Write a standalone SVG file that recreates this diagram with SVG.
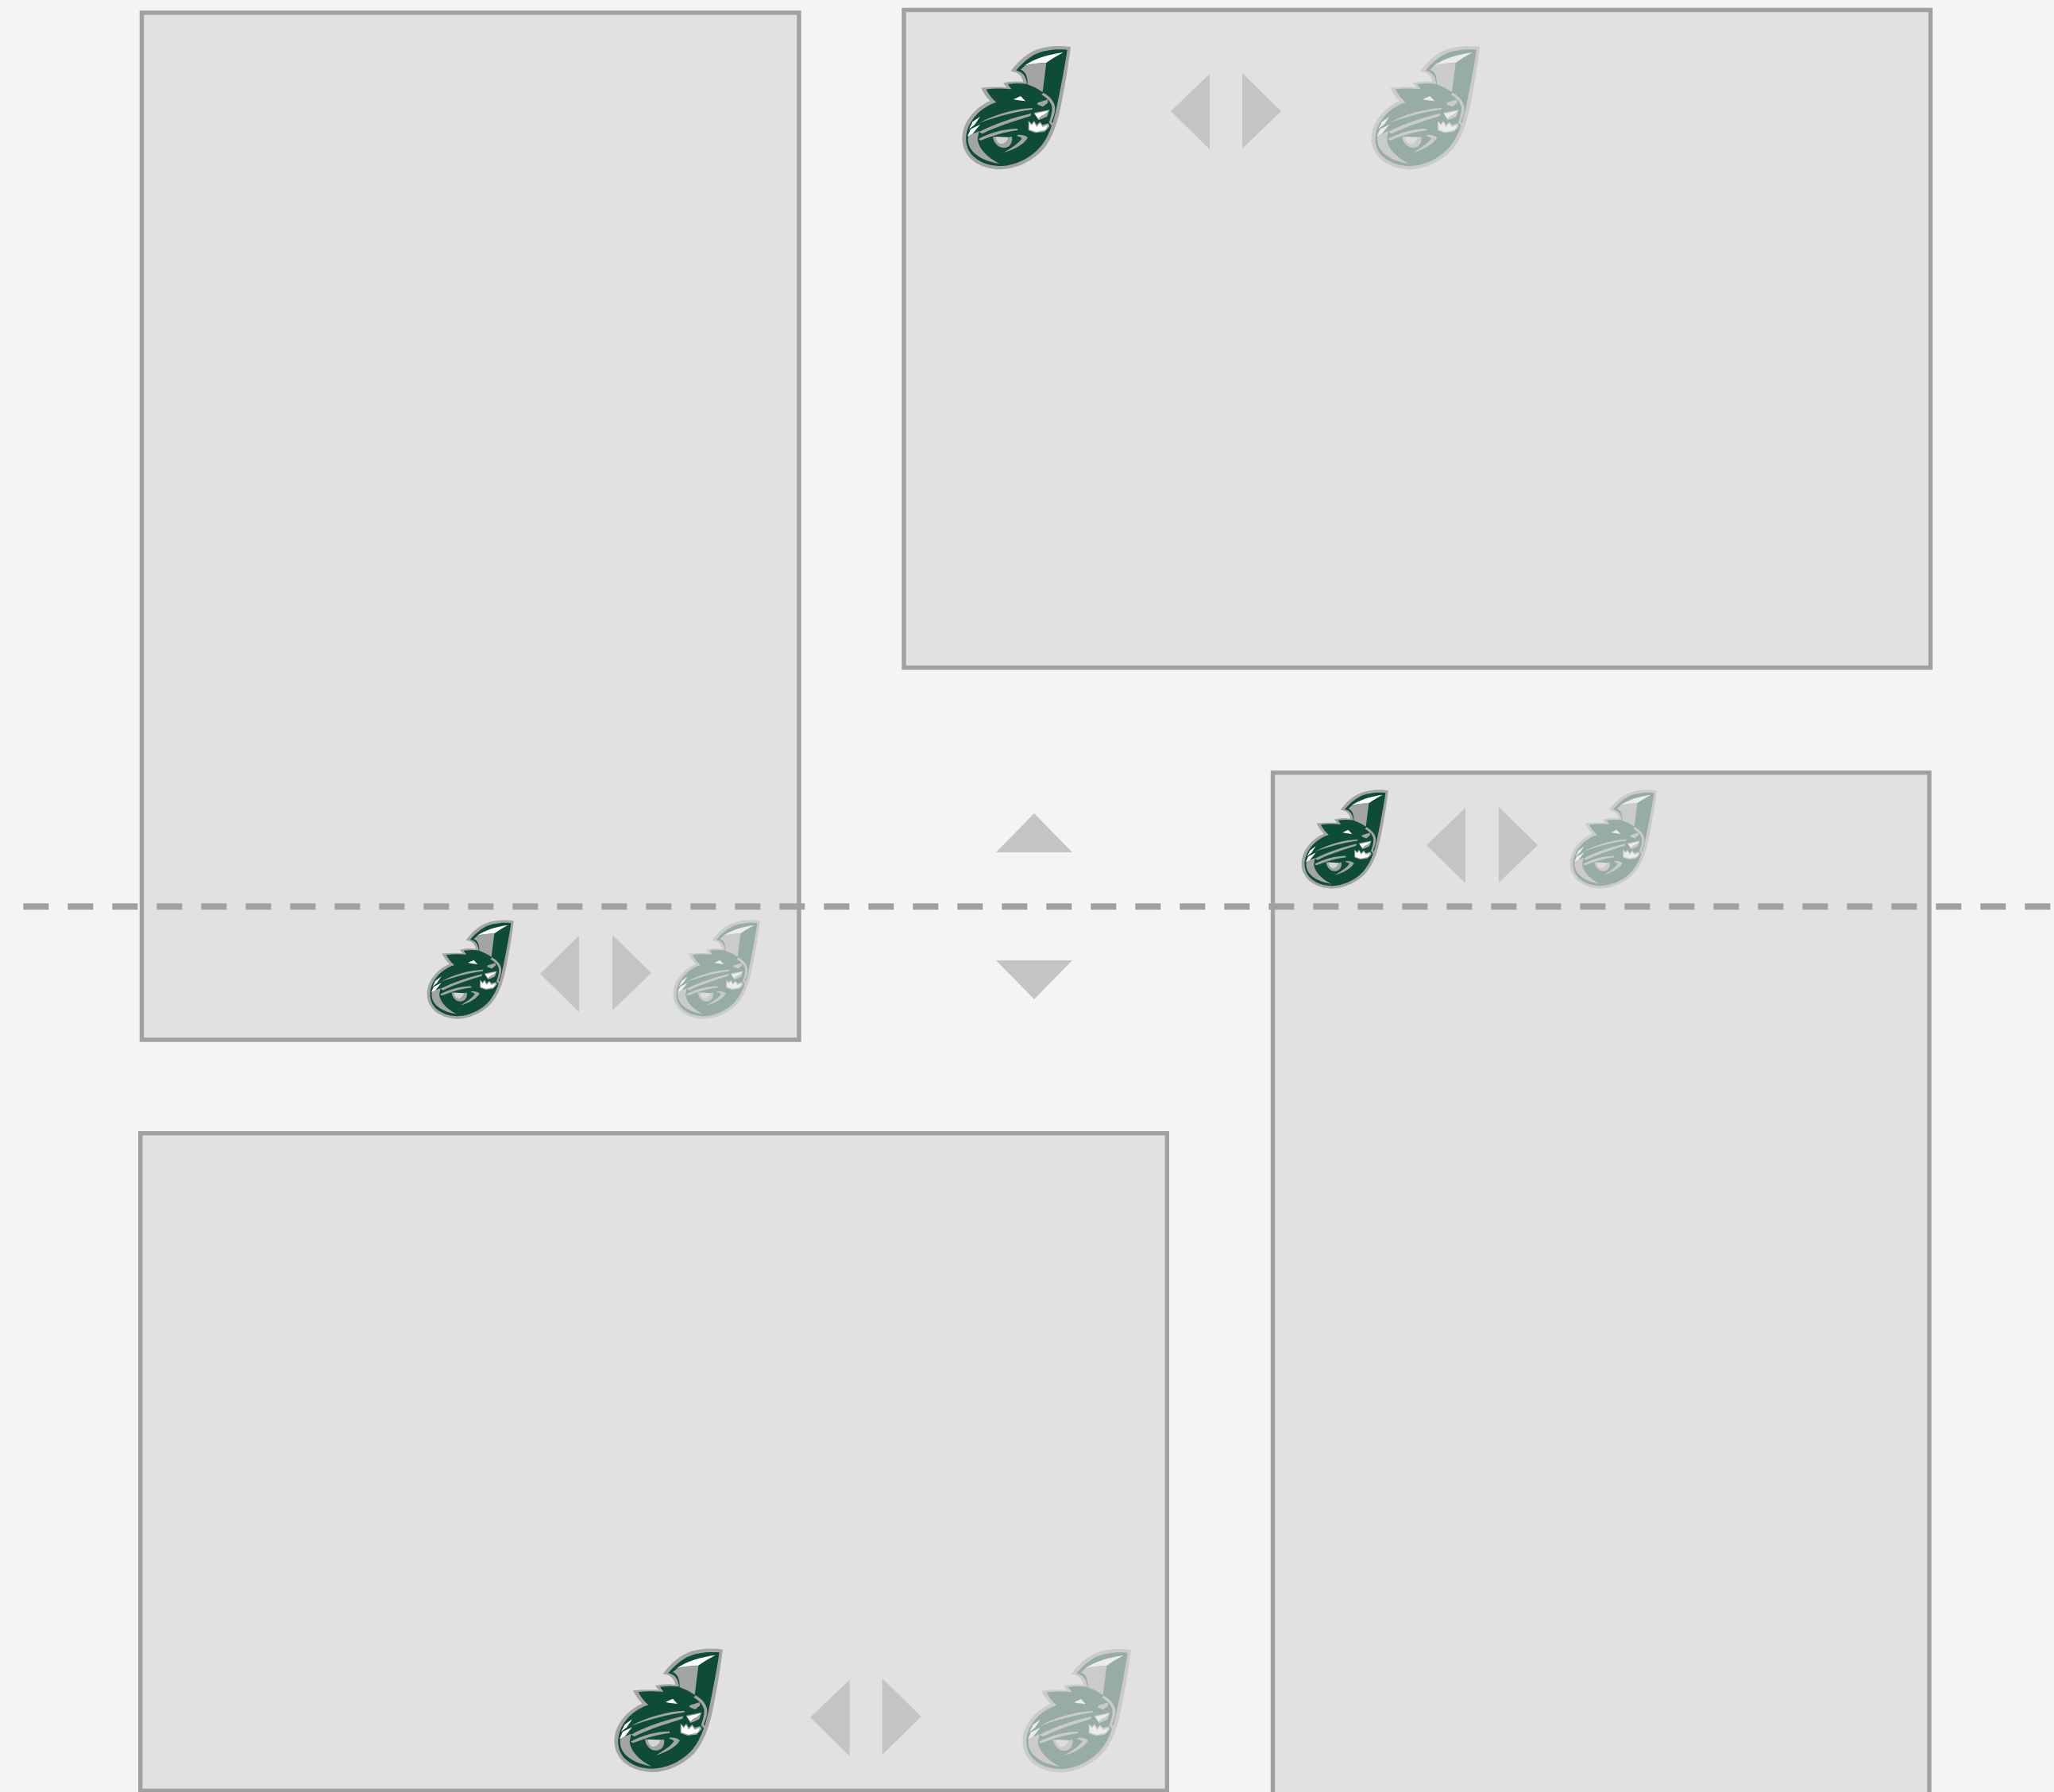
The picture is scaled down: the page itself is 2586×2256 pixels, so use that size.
<svg xmlns="http://www.w3.org/2000/svg" width="2586" height="2256" viewBox="0 0 2586 2256">
<style>
.panel{fill:#e1e1e3;stroke:#a2a0a0;stroke-width:5.4}
.tri{fill:#c5c3c4}
.divider{fill:none;stroke:#a2a0a0;stroke-width:8;stroke-dasharray:32 24}
.g{fill:#0f4c36}.o{fill:#a3a5a5}.w{fill:#fff}
.faded{opacity:.35}
</style>
<defs>
<g id="logo">
<path class="o" d="M474 57C430 50 375 54 335 72C300 88 270 118 248 149C270 152 288 158 295 190C275 186 245 186 219 194L232 210C200 208 165 208 135 212C145 232 158 250 170 261C130 278 95 310 76 350C60 385 60 425 78 455C100 495 150 518 205 520C260 520 320 495 365 450C400 410 420 360 435 290C450 220 465 130 474 57Z"/>
<path class="g" d="M461 68C425 64 375 68 340 85C312 100 288 122 268 146C290 150 306 165 309 197C285 194 260 194 237 198L250 217C220 214 185 214 155 218C165 238 180 255 193 266C150 280 112 310 92 350C75 385 74 420 90 450C110 485 155 506 205 507C255 507 310 485 352 443C385 408 405 360 420 290C435 220 452 130 461 68Z"/>
<path class="o" d="M299 130C325 120 355 118 382 118L368 228C350 215 330 206 311 199C312 172 305 150 285 143Z"/>
<path class="w" d="M299 128C335 103 390 85 446 78C420 92 398 105 382 117C355 118 325 120 299 128Z"/>
<path class="o" d="M371 230C395 244 412 262 415 285C416 306 408 325 402 340L413 355L407 362L392 342C398 325 405 305 404 287C402 268 385 250 364 238Z"/>
<path class="o" d="M330 288C270 290 190 310 128 345C190 322 265 302 328 294Z"/>
<path class="o" d="M325 308C265 322 190 345 128 378L140 385C200 355 270 335 322 318Z"/>
<path class="o" d="M272 366C225 366 170 380 125 405L135 410C180 392 225 378 275 372Z"/>
<path class="o" d="M88 392C78 432 108 482 205 498C155 472 126 440 122 405L128 375Z"/>
<path class="w" d="M132 320L104 340L90 368L112 350Z"/>
<path class="w" d="M132 350L96 368L84 395L104 385Z"/>
<path class="o" d="M180 396C184 422 202 440 225 438C245 436 256 418 252 396L240 398C236 412 226 424 212 424C198 424 192 412 190 396Z"/>
<path fill="#d3d4d5" d="M190 396C192 412 198 424 212 424C226 424 236 412 240 398Z"/>
<path class="o" d="M272 390C290 388 305 392 312 400C298 425 262 445 222 456C250 438 275 425 290 403C285 398 278 395 272 394Z"/>
<path class="o" d="M335 306L394 294L385 320L368 328L352 334Z"/>
<path class="w" d="M338 310L391 298L375 312L362 318L352 328Z"/>
<path class="o" d="M314 336L326 348L336 336L346 352L358 340L368 352L390 346L395 358L375 378L340 382L314 372Z"/>
<path class="w" d="M318 340L326 354L336 342L345 360L358 346L368 360L388 352L380 370L345 378L318 370Z"/>
<path class="w" d="M258 255L285 243L303 262L270 258Z"/>
<path class="o" d="M349 268L387 256L388 268L370 283L349 275Z"/>
</g>
</defs>
<rect width="2586" height="2256" fill="#f4f4f4"/>
<g id="panel-left">
<rect class="panel" x="178.5" y="16" width="827.5" height="1293"/>
<use href="#logo" transform="translate(520.5 1144) scale(.2667)"/>
<polygon class="tri" points="729,1178 729,1274 680,1226"/>
<polygon class="tri" points="771,1177 771,1272 820,1225"/>
<use class="faded" href="#logo" transform="translate(830.5 1144) scale(.2667)"/>
</g>
<g id="panel-top">
<rect class="panel" x="1138" y="12.5" width="1292.5" height="828"/>
<use href="#logo" transform="translate(1190 40) scale(.3333)"/>
<polygon class="tri" points="1523,93 1523,188 1474,140"/>
<polygon class="tri" points="1564,92 1564,187 1613,140"/>
<use class="faded" href="#logo" transform="translate(1705.3 40) scale(.3333)"/>
</g>
<g id="panel-right">
<rect class="panel" x="1602.5" y="972.7" width="826.5" height="1400"/>
<use href="#logo" transform="translate(1621.5 980) scale(.2667)"/>
<polygon class="tri" points="1845,1017 1845,1112 1796,1064"/>
<polygon class="tri" points="1887,1016 1887,1111 1936,1064"/>
<use class="faded" href="#logo" transform="translate(1959.5 980) scale(.2667)"/>
</g>
<g id="panel-bottom">
<rect class="panel" x="176.7" y="1426.7" width="1292.6" height="827.7"/>
<use href="#logo" transform="translate(752 2057.7) scale(.3333)"/>
<polygon class="tri" points="1069.6,2115 1069.6,2210.7 1020,2162"/>
<polygon class="tri" points="1110.8,2113 1110.8,2209 1159.8,2161"/>
<use class="faded" href="#logo" transform="translate(1266 2058) scale(.3333)"/>
</g>
<g id="flip-arrows">
<polygon class="tri" points="1302,1024 1350,1073 1254,1073"/>
<polygon class="tri" points="1254,1209 1350,1209 1302,1258"/>
</g>
<g id="connectors">
<line class="divider" x1="29.3" y1="1141.3" x2="2586" y2="1141.3"/>
</g>
</svg>
